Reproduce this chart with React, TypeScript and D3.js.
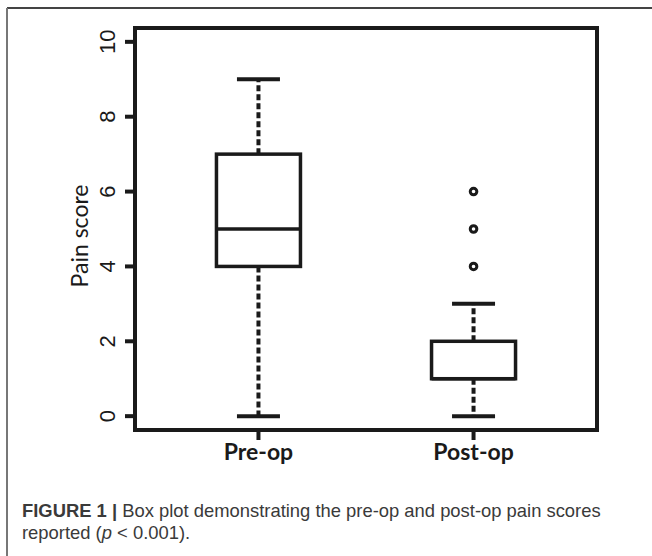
import React from "react";
import * as d3 from "d3";

const categories = ["Pre-op", "Post-op"];
const whiskerLow = [0, 0];
const q1Values = [4, 1];
const medianValues = [5, 1];
const q3Values = [7, 2];
const whiskerHigh = [9, 3];
const outliers: number[][] = [[], [4, 5, 6]];
const yTicks = [0, 2, 4, 6, 8, 10];

const W = 652;
const H = 556;
const plotL = 135;
const plotR = 597;
const plotT = 28;
const plotB = 430;

export default function App() {
  const y = d3.scaleLinear().domain([-0.37, 10.37]).range([plotB, plotT]);
  const x = d3.scalePoint<string>().domain(categories).range([plotL, plotR]).padding(0.574);
  const boxW = 84;
  const capW = 43;
  const ink = "#1a1a1a";
  return (
    <svg width={W} height={H} style={{ position: "absolute", left: 0, top: 0, background: "#fff" }}>
      <rect x={0} y={0} width={W} height={H} fill="#fff" />
      {/* outer figure border */}
      <line x1={7} y1={8} x2={W} y2={8} stroke="#444" strokeWidth={2} />
      <line x1={7} y1={8} x2={7} y2={H} stroke="#777" strokeWidth={2} />

      {/* boxes */}
      {categories.map((c, i) => {
        const cx = x(c)!;
        return (
          <g key={c}>
            <line x1={cx} x2={cx} y1={y(q3Values[i])} y2={y(whiskerHigh[i])} stroke={ink} strokeWidth={4} strokeDasharray="6,3" />
            <line x1={cx} x2={cx} y1={y(q1Values[i])} y2={y(whiskerLow[i])} stroke={ink} strokeWidth={4} strokeDasharray="6,3" />
            <line x1={cx - capW / 2} x2={cx + capW / 2} y1={y(whiskerHigh[i])} y2={y(whiskerHigh[i])} stroke={ink} strokeWidth={4} />
            <line x1={cx - capW / 2} x2={cx + capW / 2} y1={y(whiskerLow[i])} y2={y(whiskerLow[i])} stroke={ink} strokeWidth={4} />
            <rect x={cx - boxW / 2} y={y(q3Values[i])} width={boxW} height={y(q1Values[i]) - y(q3Values[i])} fill="#fff" stroke={ink} strokeWidth={3.5} />
            <line x1={cx - boxW / 2} x2={cx + boxW / 2} y1={y(medianValues[i])} y2={y(medianValues[i])} stroke={ink} strokeWidth={3.5} />
            {outliers[i].map((v, j) => (
              <circle key={j} cx={cx} cy={y(v)} r={3.3} fill="#fff" stroke={ink} strokeWidth={3} />
            ))}
          </g>
        );
      })}

      {/* frame */}
      <rect x={plotL} y={plotT} width={plotR - plotL} height={plotB - plotT} fill="none" stroke={ink} strokeWidth={4} />

      {/* y ticks */}
      {yTicks.map((t) => (
        <g key={t}>
          <line x1={plotL - 10} x2={plotL} y1={y(t)} y2={y(t)} stroke={ink} strokeWidth={4} />
          <text
            transform={`translate(115,${y(t)}) rotate(-90)`}
            textAnchor="middle"
            fontFamily="Liberation Sans, Arial, sans-serif"
            fontSize={22}
            fill={ink}
          >
            {t}
          </text>
        </g>
      ))}
      <text
        transform={`translate(88,236) rotate(-90)`}
        textAnchor="middle"
        fontFamily="Lato, sans-serif"
        fontSize={23}
        fill={ink}
      >
        Pain score
      </text>

      {/* x ticks */}
      {categories.map((c) => (
        <g key={c}>
          <line x1={x(c)!} x2={x(c)!} y1={plotB} y2={plotB + 10} stroke={ink} strokeWidth={4} />
          <text x={x(c)!} y={460} textAnchor="middle" fontFamily="Lato, sans-serif" fontWeight={700} fontSize={23} fill={ink}>
            {c}
          </text>
        </g>
      ))}

      {/* caption */}
      <text x={22} y={517} fontFamily="Liberation Sans, Arial, sans-serif" fontSize={18.4} fill="#3a3a3a">
        <tspan fontWeight={700}>FIGURE 1 | </tspan>
        <tspan>Box plot demonstrating the pre-op and post-op pain scores</tspan>
      </text>
      <text x={22} y={539} fontFamily="Liberation Sans, Arial, sans-serif" fontSize={18.4} fill="#3a3a3a">
        <tspan>reported (</tspan>
        <tspan fontStyle="italic">p</tspan>
        <tspan> {"<"} 0.001).</tspan>
      </text>
    </svg>
  );
}
